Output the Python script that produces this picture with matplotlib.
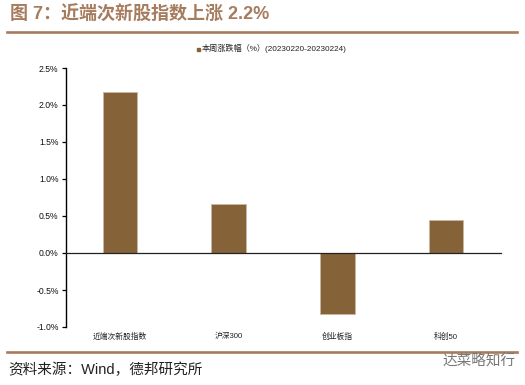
import matplotlib
matplotlib.use("Agg")
import matplotlib.pyplot as plt
from matplotlib.lines import Line2D

plt.rcParams['font.family'] = ['Liberation Sans', 'Noto Sans CJK SC', 'DejaVu Sans']
SERIF = ['Liberation Sans', 'Noto Serif CJK SC', 'Noto Sans CJK SC', 'DejaVu Sans']

title = "图 7：近端次新股指数上涨 2.2%"
source = "资料来源：Wind，德邦研究所"
watermark = "达菜略知行"
series_name = "本周涨跌幅（%）(20230220-20230224)"
categories = ["近端次新股指数", "沪深300", "创业板指", "科创50"]
values = [2.17, 0.66, -0.83, 0.44]
yticks = [-1.0, -0.5, 0.0, 0.5, 1.0, 1.5, 2.0, 2.5]

W, H = 525, 385
fig = plt.figure(figsize=(W/100, H/100), dpi=100, facecolor='white')
ax = fig.add_axes([65.5/W, 1-327/H, 435/W, (327-68)/H])

BAR = '#866239'
RULE = '#A67C5E'
xs = list(range(len(categories)))
ax.bar(xs, values, width=0.315, color=BAR, edgecolor='#C9B8A3', linewidth=0.6)
ax.set_xlim(-0.5, 3.5)
ax.set_ylim(-1.0, 2.5)
ax.set_yticks(yticks)
ax.set_yticklabels([f"{v:.1f}%" for v in yticks], fontsize=6.2, color='#111111')
ax.tick_params(axis='y', length=3, width=0.9, pad=2, direction='out')
ax.set_xticks(xs)
ax.set_xticklabels([])
ax.tick_params(axis='x', length=0)
for s in ('top', 'right'):
    ax.spines[s].set_visible(False)
ax.spines['left'].set_linewidth(1.0)
ax.spines['bottom'].set_position(('data', 0))
ax.spines['bottom'].set_linewidth(0.9)
ax.spines['bottom'].set_color('#222222')

for x, c in zip(xs, categories):
    ax.annotate(c, xy=(x, 0), xycoords=('data', 'axes fraction'), xytext=(0, -7),
                textcoords='offset points', ha='center', va='center', fontsize=5.6, color='#222222')

def px(x, y):
    return x/W, 1-y/H

fig.text(*px(10, 15), title, fontsize=13, fontweight='bold', color=RULE, ha='left', va='center')
fig.add_artist(Line2D([7/W, 517/W], [1-32/H]*2, color=RULE, lw=1.9))
fig.add_artist(Line2D([7/W, 517/W], [1-352/H]*2, color=RULE, lw=1.9))
fig.text(*px(8, 370), source, fontsize=10.5, color='#222222', ha='left', va='center')
fig.text(*px(442, 361), watermark, fontsize=10.5, color='#777777', ha='left', va='center')

fig.add_artist(plt.Rectangle((196.5/W, 1-51/H), 3.5/W, 3.5/H, color=BAR, transform=fig.transFigure))
fig.text(*px(202, 48.5), series_name, fontsize=5.9, color='#222222', ha='left', va='center')

fig.savefig("out.png", dpi=100)
